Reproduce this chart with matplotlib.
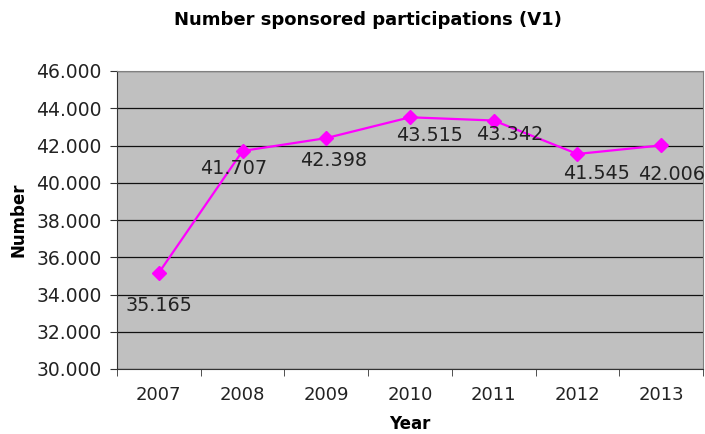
import matplotlib
matplotlib.use("Agg")
import matplotlib.pyplot as plt
from matplotlib.ticker import FuncFormatter, FixedLocator

years = ["2007", "2008", "2009", "2010", "2011", "2012", "2013"]
participations = [35165, 41707, 42398, 43515, 43342, 41545, 42006]
# label offsets (pixels) relative to each point, as placed in the original
label_dx = [0, -9, 7, 19, 16, 19, 10]
label_dy = [-33, -18, -22, -18, -14, -20, -29]

plt.rcParams['font.family'] = ['DejaVu Sans']

fig = plt.figure(figsize=(7.05, 4.34), dpi=100)
ax = fig.add_axes([117 / 705, 1 - 369 / 434, (703 - 117) / 705, (369 - 71) / 434])
ax.set_facecolor("#c0c0c0")

x = list(range(len(years)))
ax.plot(x, participations, color="#ff00ff", lw=1.6, marker="D", ms=7.5, zorder=3)

for i, v in enumerate(participations):
    txt = f"{v / 1000:.3f}"
    ax.annotate(txt, (i, v), xytext=(label_dx[i] * 0.72, label_dy[i] * 0.72),
                textcoords="offset points", ha="center", va="center",
                fontsize=13.8, color="#222222", zorder=4)

ax.set_xlim(-0.5, len(years) - 0.5)
ax.set_ylim(30000, 46000)
ax.set_yticks(range(30000, 46001, 2000))
ax.yaxis.set_major_formatter(FuncFormatter(lambda v, p: f"{v / 1000:.3f}"))
ax.grid(axis="y", color="#111111", lw=0.9)
ax.set_axisbelow(True)

ax.set_xticks(x)
ax.set_xticklabels(years)
ax.xaxis.set_minor_locator(FixedLocator([i - 0.5 for i in range(len(years) + 1)]))
ax.tick_params(axis="x", which="major", length=0, pad=12, labelsize=13, labelcolor="#222222")
ax.tick_params(axis="x", which="minor", length=5, color="#333333")
ax.tick_params(axis="y", length=5, color="#333333", labelsize=13.5, pad=6, labelcolor="#222222")

for s in ["left", "bottom"]:
    ax.spines[s].set_color("#333333")
for s in ["top", "right"]:
    ax.spines[s].set_color("#808080")

ax.set_xlabel("Year", fontsize=12, fontweight="bold", labelpad=8)
ax.set_ylabel("Number", fontsize=12, fontweight="bold", labelpad=6)
fig.text(368 / 705, 1 - 20 / 434, "Number sponsored participations (V1)",
         ha="center", va="center", fontsize=13, fontweight="bold")

fig.savefig("out.png", dpi=100)
